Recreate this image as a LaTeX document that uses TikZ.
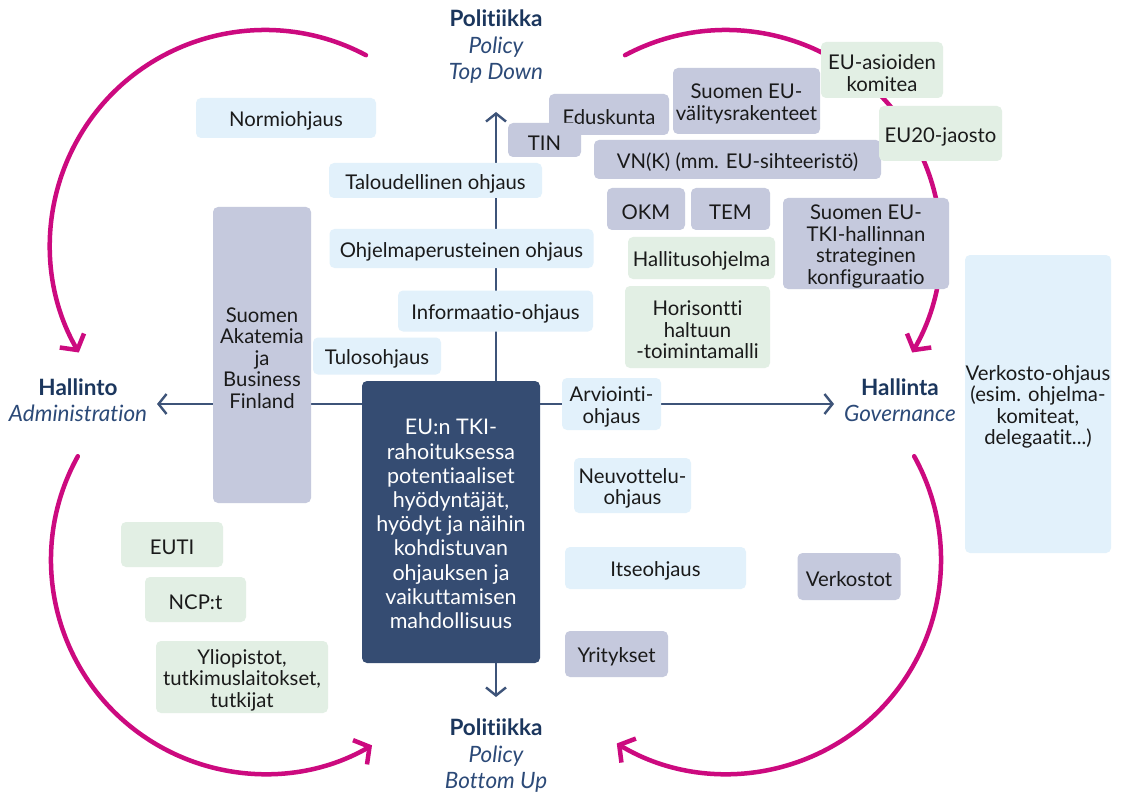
\documentclass[tikz,border=0pt]{standalone}
\usepackage{fontspec}
\setmainfont{Lato}[Ligatures={NoCommon,NoContextual}]
\usetikzlibrary{arrows.meta}
\definecolor{lbfill}{HTML}{E2F1FB}
\definecolor{greyfill}{HTML}{C5C9DD}
\definecolor{greenfill}{HTML}{E2EFE4}
\definecolor{navyfill}{HTML}{354C72}
\definecolor{axiscol}{HTML}{3E5479}
\definecolor{magentacol}{HTML}{CC0A7F}
\definecolor{titlecol}{HTML}{1B365D}
\definecolor{subcol}{HTML}{2C4A78}
\definecolor{boxtext}{HTML}{1A1A1A}
% #1 fill style, #2 name, #3 x, #4 y, #5 width, #6 height, #7 text
\newcommand\mybox[7]{%
  \node[#1, minimum width=#5pt, minimum height=#6pt] (#2) at (#3,#4) {};
  \node[txt] (#2-t) at ([yshift=-3pt]#2.center) {#7};}
\begin{document}
\begin{tikzpicture}[x=1pt,y=1pt,
  box/.style={rounded corners=5pt, inner sep=0pt},
  txt/.style={inner sep=0pt, align=center, text=boxtext, font=\fontsize{20.3}{21.5}\selectfont},
  lbox/.style={box, fill=lbfill},
  gbox/.style={box, fill=greyfill},
  grbox/.style={box, fill=greenfill},
  dbox/.style={box, fill=navyfill},
  dtxt/.style={inner sep=0pt, align=center, text=white, font=\fontsize{21.5}{24.2}\selectfont},
  axisline/.style={draw=axiscol, line width=2.4pt, -{Straight Barb[length=8pt,width=20pt]}},
  marc/.style={draw=magentacol, line width=4.5pt, line cap=round, -{Straight Barb[length=11pt,width=28pt]}},
  title/.style={align=center, text=titlecol, font=\fontsize{22.5}{26.5}\selectfont}
]
\useasboundingbox (0,0) rectangle (1123,-794);
\fill[white] (0,0) rectangle (1123,-794);

% magenta cycle arcs
\draw[marc] (265,-245) ++(62:215) arc[start angle=62, end angle=210, radius=215];
\draw[marc] (726,-245) ++(118:215) arc[start angle=118, end angle=-30, radius=215];
\draw[marc] (265,-560) ++(151:214) arc[start angle=151, end angle=300, radius=214];
\draw[marc] (727,-560) ++(29:214) arc[start angle=29, end angle=-121, radius=214];

% central box
\node[dbox, minimum width=178pt, minimum height=282pt] (center) at (451,-522) {};
\node[dtxt] (center-t) at ([yshift=-2pt]center.center)
  {EU:n TKI-\\rahoituksessa\\potentiaaliset\\hyödyntäjät,\\hyödyt ja näihin\\kohdistuvan\\ohjauksen ja\\vaikuttamisen\\mahdollisuus};

% axis end points
\coordinate (topTip) at (496,-112);
\coordinate (botTip) at (496,-697);
\coordinate (leftTip) at (157,-404);
\coordinate (rightTip) at (834,-404);
\draw[axisline] (center.north -| topTip) -- (topTip);
\draw[axisline] (center.south -| botTip) -- (botTip);
\draw[axisline] (center.west |- leftTip) -- (leftTip);
\draw[axisline] (center.east |- rightTip) -- (rightTip);

% titles
\node[title] (top) at (496,-47) {\textbf{Politiikka}\\\textcolor{subcol}{\itshape Policy}\\\textcolor{subcol}{\itshape Top Down}};
\node[title] (bottom) at (496,-756) {\textbf{Politiikka}\\\textcolor{subcol}{\itshape Policy}\\\textcolor{subcol}{\itshape Bottom Up}};
\node[title] (left) at (78,-400) {\textbf{Hallinto}\\\textcolor{subcol}{\itshape Administration}};
\node[title] (right) at (900,-400) {\textbf{Hallinta}\\\textcolor{subcol}{\itshape Governance}};

% light blue boxes
\mybox{lbox}{normi}{286}{-118}{180}{40}{Normiohjaus}
\mybox{lbox}{talous}{435.5}{-180.5}{213}{35}{Taloudellinen ohjaus}
\mybox{lbox}{ohjelma}{461.5}{-248.5}{264}{39}{Ohjelmaperusteinen ohjaus}
\mybox{lbox}{info}{495.5}{-311}{195}{41}{Informaatio-ohjaus}
\mybox{lbox}{tulos}{377}{-356}{128}{37}{Tulosohjaus}
\mybox{lbox}{arvio}{611.5}{-404}{99}{52}{Arviointi-\\ohjaus}
\mybox{lbox}{neuvo}{632.5}{-485.5}{117}{55}{Neuvottelu-\\ohjaus}
\mybox{lbox}{itse}{655.5}{-568}{181}{42}{Itseohjaus}
\mybox{lbox}{verkohj}{1038}{-404}{146}{298}{Verkosto-ohjaus\\(esim. ohjelma-\\komiteat,\\delegaatit...)}

% grey boxes
\mybox{gbox}{akatemia}{262}{-355}{98}{296}{Suomen\\Akatemia\\ja\\Business\\Finland}
\mybox{gbox}{eduskunta}{609}{-114.5}{120}{41}{Eduskunta}
\mybox{gbox}{tin}{544.5}{-140}{73}{34}{TIN}
\mybox{gbox}{valitys}{746.5}{-101}{147}{66}{Suomen EU-\\välitysrakenteet}
\mybox{gbox}{vnk}{737.5}{-159.5}{287}{39}{VN(K) (mm. EU-sihteeristö)}
\mybox{gbox}{okm}{646}{-209}{78}{42}{OKM}
\mybox{gbox}{tem}{730.5}{-209}{79}{42}{TEM}
\mybox{gbox}{konfig}{866}{-243.5}{166}{91}{Suomen EU-\\TKI-hallinnan\\strateginen\\konfiguraatio}
\mybox{gbox}{verkostot}{849}{-576.5}{103}{47}{Verkostot}
\mybox{gbox}{yritykset}{616.5}{-654}{103}{46}{Yritykset}

% green boxes
\mybox{grbox}{euasiat}{882}{-70}{122}{56}{EU-asioiden\\komitea}
\mybox{grbox}{eu20}{940.5}{-133.5}{123}{55}{EU20-jaosto}
\mybox{grbox}{hallitus}{701.5}{-258}{147}{42}{Hallitusohjelma}
\mybox{grbox}{horisontti}{697.5}{-327}{145}{82}{Horisontti\\haltuun\\-toimintamalli}
\mybox{grbox}{euti}{172}{-544.5}{102}{45}{EUTI}
\mybox{grbox}{ncp}{195.5}{-599.5}{101}{45}{NCP:t}
\mybox{grbox}{yliopistot}{242}{-677}{172}{72}{Yliopistot,\\tutkimuslaitokset,\\tutkijat}
\end{tikzpicture}
\end{document}
